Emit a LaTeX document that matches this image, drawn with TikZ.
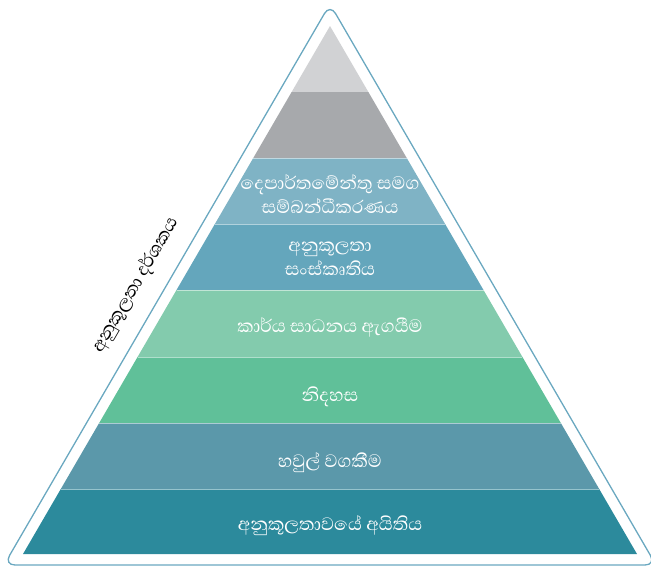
\documentclass[tikz,border=0pt]{standalone}
\usepackage{fontspec}
\newfontfamily\sinhala[Script=Sinhala]{Abhaya Libre}
\definecolor{cA}{HTML}{D1D2D4}
\definecolor{cB}{HTML}{A7A9AC}
\definecolor{cC}{HTML}{7FB3C5}
\definecolor{cD}{HTML}{64A6BC}
\definecolor{cE}{HTML}{83CBAD}
\definecolor{cF}{HTML}{60C099}
\definecolor{cG}{HTML}{5B98AA}
\definecolor{cH}{HTML}{2C8A9C}
\definecolor{outl}{HTML}{6AA8C0}
\tikzset{
  bandtext/.style={text=white, font=\sinhala\fontsize{23}{24}\selectfont, align=center, inner sep=0pt},
  sidetext/.style={text=black, font=\sinhala\fontsize{23}{24}\selectfont, inner sep=0pt},
  sepline/.style={white, opacity=0.5, line width=0.8pt}
}
\begin{document}
\begin{tikzpicture}[x=1pt,y=-1pt]
\useasboundingbox (0,0) rectangle (651,576);
% outer rounded triangle
\draw[outl, line width=1.3pt, rounded corners=11pt] (330,4) -- (656,565) -- (4,565) -- cycle;
% bands
\foreach \ya/\yb/\col in {26/92/cA, 92/158/cB, 158/224/cC, 224/290/cD, 290/357/cE, 357/423/cF, 423/489/cG, 489/554/cH}{
  \pgfmathsetmacro\wa{0.58144*(\ya-26)}
  \pgfmathsetmacro\wb{0.58144*(\yb-26)}
  \fill[\col] (330-\wa,\ya) -- (330+\wa,\ya) -- (330+\wb,\yb) -- (330-\wb,\yb) -- cycle;
}
\foreach \yy in {158,224,290,357,423,489}{
  \pgfmathsetmacro\ww{0.58144*(\yy-26)}
  \draw[sepline] (330-\ww,\yy) -- (330+\ww,\yy);
}
% texts
\node[bandtext] (t3) at (330,194) {දෙපාර්තමේන්තු සමග\\සම්බන්ධීකරණය};
\node[bandtext] (t4) at (330,259) {අනුකූලතා\\සංස්කෘතිය};
\node[bandtext] (t5) at (330,327) {කාර්ය සාධනය ඇගයීම};
\node[bandtext] (t6) at (330,397) {නිදහස};
\node[bandtext] (t7) at (330,463) {හවුල් වගකීම};
\node[bandtext] (t8) at (330,526) {අනුකූලතාවයේ අයිතිය};
% side label
\node[sidetext, rotate=59.8] (side) at (136,285) {අනුකූලතා දර්ශකය};
\end{tikzpicture}
\end{document}
